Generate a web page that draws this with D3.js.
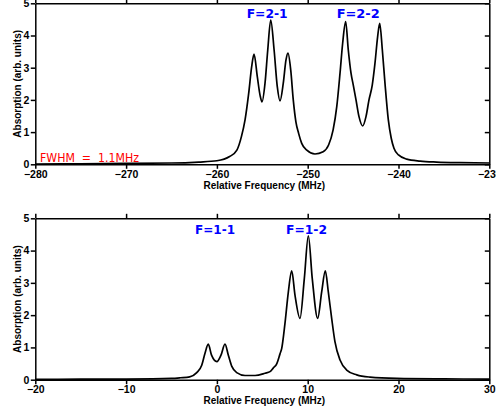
<!DOCTYPE html>
<html>
<head>
<meta charset="utf-8"/>
<title>Absorption spectra</title>
<script src="https://cdn.jsdelivr.net/npm/d3@7"></script>
<style>
html, body {
    margin: 0;
    padding: 0;
    background: #ffffff;
}
svg {
    display: block;
}
.tick text {
    font-family: "Liberation Sans", Arial, sans-serif;
    font-weight: bold;
    font-size: 10.5px;
}
.axis-title {
    font-family: "Liberation Sans", Arial, sans-serif;
    font-weight: bold;
    font-size: 10px;
}
.note {
    font-family: "DejaVu Sans", sans-serif;
    font-weight: bold;
    font-size: 12px;
}
.note.fwhm {
    font-weight: normal;
    font-size: 13px;
}
</style>
</head>
<body>

<svg id="chart"></svg>

<script>

// Top panel: F=2 -> F' transitions (frequency in MHz, absorption in arb. units)
const topFreq = [-280, -275, -270, -265, -262, -260, -258.6, -257.8, -257.3, -256.9,
    -256.5, -256.17, -255.91, -255.55, -255.25, -255.03, -254.7, -254.4, -254.07, -253.7,
    -253.35, -253.05, -252.69, -252.39, -252.17, -251.87, -251.59, -251.3, -251.0, -250.66,
    -250.1, -249.2, -248.3, -247.7, -247.2, -246.8, -246.44, -246.15, -245.82, -245.53,
    -245.23, -244.98, -244.68, -244.35, -243.94, -243.58, -243.25, -242.89, -242.59, -242.3,
    -242.07, -241.78, -241.49, -241.12, -240.8, -240.5, -240.0, -239.1, -237.6, -235.8,
    -233.2, -230];
const topAbs = [0.01, 0.015, 0.03, 0.04, 0.07, 0.11, 0.24, 0.44, 0.86, 1.38,
    2.2, 3.03, 3.42, 2.72, 2.15, 1.94, 2.52, 3.55, 4.48, 3.55,
    2.41, 1.97, 2.52, 3.24, 3.45, 2.93, 2.0, 1.32, 0.96, 0.65,
    0.44, 0.32, 0.39, 0.6, 1.07, 1.79, 2.83, 3.76, 4.43, 3.55,
    2.83, 2.46, 2.0, 1.48, 1.19, 1.48, 2.0, 2.46, 3.14, 3.96,
    4.38, 3.55, 2.52, 1.38, 0.81, 0.5, 0.29, 0.16, 0.10, 0.07,
    0.05, 0.04];

// Bottom panel: F=1 -> F' transitions
const botFreq = [-20, -15, -10, -5, -4, -3, -2.22, -1.67, -1.31, -0.95,
    -0.59, 0, 0.45, 0.89, 1.26, 1.63, 2.18, 3.1, 4.2, 5.3,
    5.85, 6.2, 6.6, 6.95, 7.14, 7.5, 7.86, 8.24, 8.6, 9.15,
    9.63, 10.07, 10.5, 11.1, 11.54, 11.94, 12.27, 12.64, 13.0, 13.56,
    14.29, 15.4, 16.86, 19.8, 25, 30];
const botAbs = [0.01, 0.015, 0.02, 0.04, 0.06, 0.09, 0.22, 0.45, 0.82, 1.10,
    0.76, 0.56, 0.76, 1.10, 0.76, 0.42, 0.22, 0.13, 0.13, 0.2,
    0.25, 0.36, 0.5, 0.8, 0.97, 1.75, 2.7, 3.37, 2.62, 1.9,
    3.14, 4.46, 3.14, 1.9, 2.72, 3.37, 2.72, 1.9, 1.18, 0.61,
    0.30, 0.15, 0.08, 0.04, 0.025, 0.02];

const topTicks = [-280, -270, -260, -250, -240, -230];
const botTicks = [-20, -10, 0, 10, 20, 30];
const yTicks = [0, 1, 2, 3, 4, 5];

const topLabels = ["F=2-1", "F=2-2"];
const botLabels = ["F=1-1", "F=1-2"];
const fwhmText = "FWHM  =  1.1MHz";

const xTitle = "Relative Frequency (MHz)";
const yTitle = "Absorption (arb. units)";

const W = 496, H = 413;

const svg = d3.select("#chart")
    .attr("width", W)
    .attr("height", H);

const line = d3.line()
    .curve(d3.curveMonotoneX);

function drawPanel(freq, abs, ticks, box) {
    // box: left, right, top, bottom pixel edges of the plot frame
    const x = d3.scaleLinear().domain([ticks[0], ticks[ticks.length - 1]]).range([box.left, box.right]);
    const y = d3.scaleLinear().domain([0, 5]).range([box.bottom, box.top]);
    const g = svg.append("g");
    const tk = 4.5;

    // spectrum
    g.append("path")
        .attr("d", line.x(d => x(d[0])).y(d => y(d[1]))(freq.map((f, i) => [f, abs[i]])))
        .attr("fill", "none")
        .attr("stroke", "#000")
        .attr("stroke-width", 1.7)
        .attr("stroke-linejoin", "round");

    // axes: bottom & left labelled, top outward, right inward
    g.append("g")
        .attr("transform", "translate(0," + box.bottom + ")")
        .call(d3.axisBottom(x).tickValues(ticks).tickSizeInner(tk).tickSizeOuter(0)
            .tickPadding(1.5).tickFormat(d3.format("d")));
    g.append("g")
        .attr("transform", "translate(0," + box.top + ")")
        .call(d3.axisTop(x).tickValues(ticks).tickSizeInner(tk).tickSizeOuter(0).tickFormat(""));
    g.append("g")
        .attr("transform", "translate(" + box.left + ",0)")
        .call(d3.axisLeft(y).tickValues(yTicks).tickSizeInner(tk).tickSizeOuter(0)
            .tickPadding(1.5).tickFormat(d3.format("d")));
    g.append("g")
        .attr("transform", "translate(" + box.right + ",0)")
        .call(d3.axisRight(y).tickValues(yTicks).tickSizeInner(-tk).tickSizeOuter(0).tickFormat(""));

    g.selectAll(".domain, .tick line")
        .attr("stroke", "#000")
        .attr("stroke-width", 1.5);
    g.selectAll(".tick text").attr("fill", "#000");

    // axis titles
    g.append("text")
        .attr("class", "axis-title")
        .attr("x", (box.left + box.right) / 2 + 2)
        .attr("y", box.bottom + 24.5)
        .attr("text-anchor", "middle")
        .text(xTitle);
    g.append("text")
        .attr("class", "axis-title")
        .attr("transform", "translate(20.5," + ((box.top + box.bottom) / 2) + ") rotate(-90)")
        .attr("text-anchor", "middle")
        .text(yTitle);

    return {g: g, x: x, y: y};
}

const topPanel = drawPanel(topFreq, topAbs, topTicks, {left: 35.3, right: 489.3, top: 3.3, bottom: 164.3});
const botPanel = drawPanel(botFreq, botAbs, botTicks, {left: 35.3, right: 489.3, top: 218.3, bottom: 379.7});

// transition labels (placed by pixel, as in the original figure)
function note(g, txt, px, py, color, width, cls) {
    g.append("text")
        .attr("class", "note " + (cls || ""))
        .attr("x", px)
        .attr("y", py)
        .attr("fill", color)
        .attr("textLength", width)
        .attr("lengthAdjust", "spacingAndGlyphs")
        .style("white-space", "pre")
        .text(txt);
}

note(topPanel.g, topLabels[0], 246.7, 18.3, "#0000ff", 41);
note(topPanel.g, topLabels[1], 336.7, 18.3, "#0000ff", 43);
note(topPanel.g, fwhmText, 40, 161.5, "#ff0000", 99, "fwhm");
note(botPanel.g, botLabels[0], 195, 233.5, "#0000ff", 40);
note(botPanel.g, botLabels[1], 286, 234, "#0000ff", 41);

</script>

</body>
</html>
